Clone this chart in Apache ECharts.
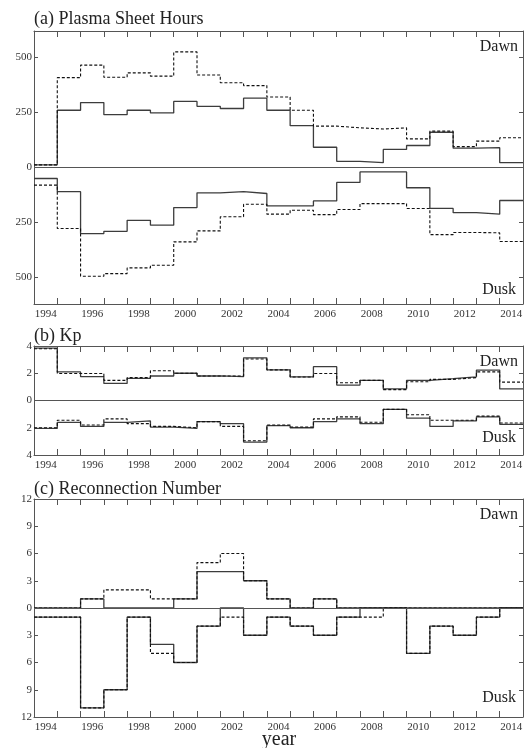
<!DOCTYPE html>
<html>
<head>
<meta charset="utf-8">
<script src="https://cdn.jsdelivr.net/npm/echarts@6/dist/echarts.min.js"></script>
<style>html,body{margin:0;padding:0;background:#fff;}#c{width:530px;height:748px;}</style>
</head>
<body>
<div id="c"></div>
<script>
const years = [1994,1995,1996,1997,1998,1999,2000,2001,2002,2003,2004,2005,2006,2007,2008,2009,2010,2011,2012,2013,2014];
const yearLabels = [1994,1996,1998,2000,2002,2004,2006,2008,2010,2012,2014];

// (a) Plasma Sheet Hours
const psDawnSolid  = [12,260,295,240,260,248,300,278,268,315,260,190,92,28,22,82,100,160,88,90,22];
const psDawnDashed = [12,408,465,410,430,415,525,420,385,372,320,260,188,180,175,180,130,165,95,120,135];
const psDuskSolid  = [50,110,300,290,240,262,182,115,110,118,174,174,152,68,20,20,92,186,205,212,150];
const psDuskDashed = [80,277,494,482,456,444,338,288,224,167,212,194,214,191,164,164,186,305,295,297,336];
const psTicks = [-500,-250,0,250,500];

// (b) Kp
const kpDawnSolid  = [3.85,2.1,1.75,1.25,1.63,1.8,2.0,1.8,1.75,3.13,2.25,1.73,2.48,1.13,1.48,0.85,1.48,1.6,1.73,2.23,0.85];
const kpDawnDashed = [3.8,1.98,1.98,1.48,1.68,2.18,2.0,1.8,1.8,3.05,2.25,1.73,1.98,1.3,1.48,0.8,1.38,1.55,1.68,2.1,1.35];
const kpDuskSolid  = [2.05,1.6,1.9,1.6,1.5,1.95,2.05,1.55,1.7,3.05,1.85,2.0,1.55,1.35,1.7,0.65,1.3,1.9,1.5,1.2,1.75];
const kpDuskDashed = [2.0,1.45,1.8,1.35,1.7,1.9,2.0,1.55,1.9,2.95,1.8,1.95,1.35,1.2,1.6,0.65,1.05,1.45,1.45,1.15,1.65];
const kpTicks = [-4,-2,0,2,4];

// (c) Reconnection Number
const rnDawnSolid  = [0,0,1,0,0,0,1,4,4,3,1,0,1,0,0,0,0,0,0,0,0];
const rnDawnDashed = [0,0,1,2,2,1,1,5,6,3,1,0,1,0,0,0,0,0,0,0,0];
const rnDuskSolid  = [1,1,11,9,1,4,6,2,0,3,1,2,3,1,0,0,5,2,3,1,0];
const rnDuskDashed = [1,1,11,9,1,5,6,2,1,3,1,2,3,1,1,0,5,2,3,1,0];
const rnTicks = [-12,-9,-6,-3,0,3,6,9,12];

const tickEdges = years.slice(1).map(y => y - 0.5);
const FONT = 'Liberation Serif';
const FRAME = '#555';
const TXT = '#333';

function steps(vals, sign) {
  const pts = years.map((y, i) => [y - 0.5, sign * vals[i]]);
  pts.push([years[years.length - 1] + 0.5, sign * vals[vals.length - 1]]);
  return pts;
}

const grids = [
  {left: 34, right: 7, top: 31, height: 273},
  {left: 34, right: 7, top: 346, height: 109},
  {left: 34, right: 7, top: 499, height: 218}
];
const ranges = [620, 4, 12];
const yTicks = [psTicks, kpTicks, rnTicks];
const panels = [
  [psDawnSolid, psDawnDashed, psDuskSolid, psDuskDashed],
  [kpDawnSolid, kpDawnDashed, kpDuskSolid, kpDuskDashed],
  [rnDawnSolid, rnDawnDashed, rnDuskSolid, rnDuskDashed]
];

const xAxes = [], yAxes = [], series = [];
grids.forEach((g, gi) => {
  const xBase = {
    type: 'value', gridIndex: gi, min: years[0] - 0.5, max: years[years.length - 1] + 0.5,
    splitLine: {show: false},
    axisLine: {show: true, onZero: false, lineStyle: {color: FRAME, width: 1}},
    axisTick: {show: true, inside: true, length: 6, customValues: tickEdges, lineStyle: {color: FRAME, width: 1}}
  };
  xAxes.push(Object.assign({}, xBase, {
    position: 'bottom',
    axisLabel: {show: true, customValues: yearLabels, margin: 5, fontFamily: FONT, fontSize: 11, color: TXT, formatter: v => String(Math.round(v))}
  }));
  xAxes.push(Object.assign({}, xBase, {position: 'top', axisLabel: {show: false}}));
  const R = ranges[gi];
  const yBase = {
    type: 'value', gridIndex: gi, min: -R, max: R,
    splitLine: {show: false},
    axisLine: {show: true, onZero: false, lineStyle: {color: FRAME, width: 1}},
    axisTick: {show: true, inside: true, length: 4, customValues: yTicks[gi], lineStyle: {color: FRAME, width: 1}}
  };
  yAxes.push(Object.assign({}, yBase, {
    position: 'left',
    axisLabel: {show: true, customValues: yTicks[gi], margin: 2, fontFamily: FONT, fontSize: 11, color: TXT, formatter: v => String(Math.abs(v))}
  }));
  yAxes.push(Object.assign({}, yBase, {position: 'right', axisLabel: {show: false}}));

  const d = panels[gi];
  const mk = (vals, sign, dashed, withZero) => {
    const s = {
      type: 'line', xAxisIndex: gi * 2, yAxisIndex: gi * 2, step: 'end',
      data: steps(vals, sign), symbol: 'none', silent: true, animation: false,
      lineStyle: dashed ? {color: '#111', width: 1.1, type: [3, 2]} : {color: '#3c3c3c', width: 1.3},
      z: dashed ? 3 : 2
    };
    if (withZero) {
      s.markLine = {silent: true, symbol: 'none', label: {show: false}, animation: false,
        lineStyle: {color: FRAME, width: 1, type: 'solid'}, data: [{yAxis: 0}]};
    }
    return s;
  };
  series.push(mk(d[0], 1, false, true));
  series.push(mk(d[1], 1, true, false));
  series.push(mk(d[2], -1, false, false));
  series.push(mk(d[3], -1, true, false));
});

const txt = (x, y, text, size, align) => ({
  type: 'text', x: x, y: y,
  style: {text: text, fontFamily: FONT, fontSize: size, fill: '#222', align: align || 'left', verticalAlign: 'middle'}
});

const option = {
  backgroundColor: '#fff',
  animation: false,
  grid: grids,
  xAxis: xAxes,
  yAxis: yAxes,
  series: series,
  graphic: [
    txt(34, 19, '(a) Plasma Sheet Hours', 18),
    txt(518, 47, 'Dawn', 16, 'right'),
    txt(516, 290, 'Dusk', 16, 'right'),
    txt(34, 336, '(b) Kp', 18),
    txt(518, 362, 'Dawn', 16, 'right'),
    txt(516, 438, 'Dusk', 16, 'right'),
    txt(34, 489, '(c) Reconnection Number', 18),
    txt(518, 515, 'Dawn', 16, 'right'),
    txt(516, 698, 'Dusk', 16, 'right'),
    txt(279, 740, 'year', 20, 'center')
  ]
};
const chart = echarts.init(document.getElementById('c'), null, {renderer: 'canvas'});
chart.setOption(option);
</script>
</body>
</html>
